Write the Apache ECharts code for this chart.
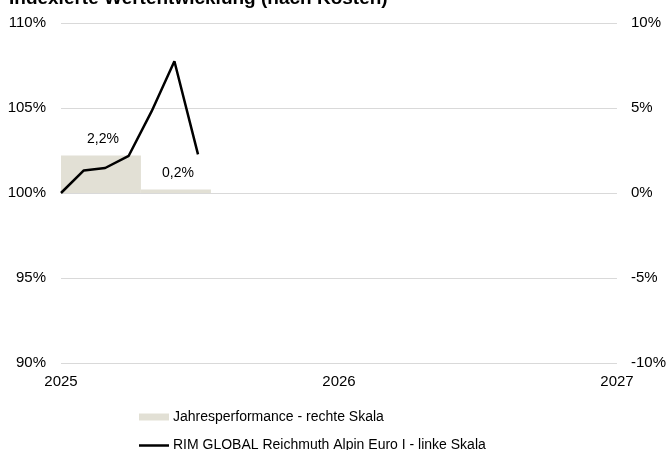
<!DOCTYPE html>
<html>
<head>
<meta charset="utf-8">
<script src="https://cdn.jsdelivr.net/npm/echarts@6/dist/echarts.min.js"></script>
<style>
html,body{margin:0;padding:0;background:#fff;}
#chart{width:669px;height:450px;}
</style>
</head>
<body>
<div id="chart"></div>
<script>
// ---- data ----
var titleText = 'Indexierte Wertentwicklung (nach Kosten)';
var lineName = 'RIM GLOBAL Reichmuth Alpin Euro I - linke Skala';
var barName = 'Jahresperformance - rechte Skala';
var lineDates = ['2025-01-01','2025-01-31','2025-02-28','2025-03-31','2025-04-30','2025-05-30','2025-06-30'];
var lineValues = [100, 101.33, 101.47, 102.19, 104.8, 107.75, 102.27];
var barStarts = ['2025-01-01','2025-04-16'];
var barEnds = ['2025-04-16','2025-07-17'];
var barValues = [2.2, 0.2];
var barLabels = ['2,2%','0,2%'];
var xTicks = [2025, 2026, 2027];
var leftTicks = [90, 95, 100, 105, 110];
var rightTicks = [-10, -5, 0, 5, 10];

function toYear(s){
  var t = Date.parse(s + 'T00:00:00Z');
  var t0 = Date.UTC(2025,0,1);
  return 2025 + (t - t0) / (365.25*86400000);
}

var lineData = lineDates.map(function(d,i){ return [toYear(d), lineValues[i]]; });
var barData = barValues.map(function(v,i){ return [toYear(barStarts[i]), toYear(barEnds[i]), v, barLabels[i]]; });

var FONT = 'Liberation Sans, Arial, Helvetica, sans-serif';
var chart = echarts.init(document.getElementById('chart'), null, {renderer:'canvas'});
chart.setOption({
  animation: false,
  textStyle: {fontFamily: FONT},
  title: {
    text: titleText, left: 4, top: -16,
    textStyle: {fontFamily: FONT, fontSize: 19, fontWeight: 'bold', color: '#000'}
  },
  grid: {left: 61, right: 51, top: 23, bottom: 87, containLabel: false},
  legend: [
    {
      left: 139, top: 410, itemWidth: 30, itemHeight: 7, padding: 0,
      textStyle: {fontFamily: FONT, fontSize: 14, color: '#000', padding:[0,0,0,-1]},
      data: [{name: barName, icon: 'rect', itemStyle: {color: '#e2e0d5'}}]
    },
    {
      left: 139, top: 438.5, itemWidth: 30, itemHeight: 2.5, padding: 0,
      textStyle: {fontFamily: FONT, fontSize: 14, color: '#000', padding:[0,0,0,-1]},
      data: [{name: lineName, icon: 'rect', itemStyle: {color: '#000'}}]
    }
  ],
  xAxis: {
    type: 'value', min: xTicks[0], max: xTicks[xTicks.length-1], interval: 1,
    axisLine: {show: false}, axisTick: {show: false}, splitLine: {show: false},
    axisLabel: {fontFamily: FONT, fontSize: 15, color: '#000', margin: 11, formatter: function(v){ return String(v); }}
  },
  yAxis: [
    {
      type: 'value', min: leftTicks[0], max: leftTicks[leftTicks.length-1], interval: 5, position: 'left',
      axisLine: {show: false}, axisTick: {show: false},
      splitLine: {show: true, lineStyle: {color: '#d9d9d9', width: 1}},
      axisLabel: {fontFamily: FONT, fontSize: 15, color: '#000', margin: 15, formatter: '{value}%'}
    },
    {
      type: 'value', min: rightTicks[0], max: rightTicks[rightTicks.length-1], interval: 5, position: 'right',
      axisLine: {show: false}, axisTick: {show: false}, splitLine: {show: false},
      axisLabel: {fontFamily: FONT, fontSize: 15, color: '#000', margin: 14, formatter: '{value}%'}
    }
  ],
  series: [
    {
      name: barName, type: 'custom', yAxisIndex: 1, xAxisIndex: 0,
      itemStyle: {color: '#e2e0d5'},
      encode: {x: [0,1], y: 2},
      data: barData,
      renderItem: function(params, api){
        var s = api.coord([api.value(0), api.value(2)]);
        var e = api.coord([api.value(1), 0]);
        var x0 = s[0], x1 = e[0], yTop = s[1], yBase = e[1];
        return {
          type: 'group',
          children: [
            {type: 'rect', shape: {x: x0, y: Math.min(yTop,yBase), width: x1-x0, height: Math.abs(yBase-yTop)},
             style: {fill: '#e2e0d5'}},
            {type: 'text', x: (x0+x1)/2 + 2, y: Math.min(yTop,yBase) - 9,
             style: {text: barData[params.dataIndex][3], fill: '#000', font: '14px ' + FONT, align: 'center', verticalAlign: 'bottom'}}
          ]
        };
      },
      z: 1
    },
    {
      name: lineName, type: 'line', yAxisIndex: 0, data: lineData,
      symbol: 'none', showSymbol: false,
      lineStyle: {color: '#000', width: 2.5},
      itemStyle: {color: '#000'},
      z: 3
    }
  ]
});
</script>
</body>
</html>
